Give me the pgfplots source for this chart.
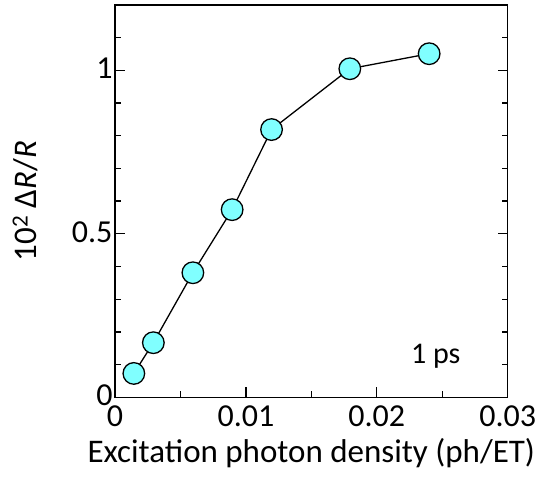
\documentclass[border=0pt]{standalone}
\usepackage{pgfplots}
\pgfplotsset{compat=1.18}
\usepackage{fontspec}
\setmainfont{Carlito}
\definecolor{mk}{HTML}{80FFFF}
\begin{document}
\begin{tikzpicture}
\begin{axis}[
  scale only axis,
  width=392.7bp, height=392.3bp,
  xmin=0, xmax=0.03, ymin=0, ymax=1.2,
  scaled x ticks=false, scaled y ticks=false,
  axis line style={line width=1.4bp},
  xtick={0,0.01,0.02,0.03},
  xticklabels={0,0.01,0.02,0.03},
  minor xtick={0.005,0.015,0.025},
  ytick={0,0.5,1},
  yticklabels={0,0.5,1},
  minor ytick={0.1,0.2,0.3,0.4,0.6,0.7,0.8,0.9,1.1},
  tick align=inside,
  xtick pos=bottom,
  ytick pos=both,
  major tick length=10bp, minor tick length=6bp,
  every tick/.style={black, line width=1.3bp},
  y tick label style={xshift=1bp, yshift=2bp, inner ysep=1bp},
  x tick label style={yshift=-7bp, inner ysep=1bp},
  ticklabel style={font=\fontsize{32bp}{34bp}\selectfont},
  yticklabel pos=left,
  /pgf/number format/assume math mode=true,
  xlabel={Excitation photon density (ph/ET)},
  ylabel={10\textsuperscript{2} Δ\textit{R}/\textit{R}},
  label style={font=\fontsize{33bp}{36bp}\selectfont},
  xlabel style={yshift=-7bp},
  ylabel style={yshift=27bp},
  clip=false,
]
\addplot[black, line width=1.3bp, mark=*, mark size=10.8bp,
  mark options={fill=mk, draw=black, line width=1.3bp}]
  coordinates {(0.00144,0.073)(0.00293,0.167)(0.00595,0.381)(0.00895,0.574)(0.01196,0.819)(0.01794,1.005)(0.0240,1.051)};
\node[font=\fontsize{30bp}{32bp}\selectfont] at (axis cs:0.0245,0.124) {1 ps};
\end{axis}
\path[use as bounding box] ([shift={(-115bp,-86.7bp)}]current axis.south west) rectangle ([shift={(37.3bp,5bp)}]current axis.north east);
\end{tikzpicture}
\end{document}
